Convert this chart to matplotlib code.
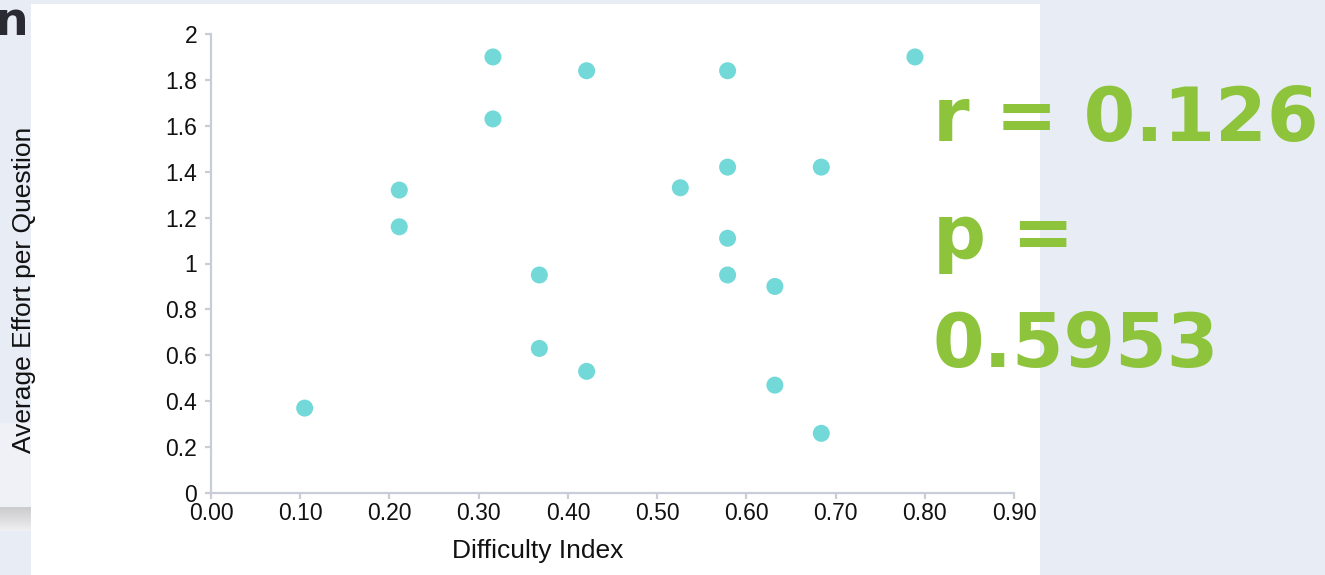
import matplotlib.pyplot as plt
from matplotlib.patches import Rectangle

# difficulty index vs average effort per question
difficulty = [0.105, 0.211, 0.211, 0.316, 0.316, 0.368, 0.368, 0.421, 0.421, 0.526,
              0.579, 0.579, 0.579, 0.579, 0.632, 0.632, 0.684, 0.684, 0.789]
effort = [0.37, 1.32, 1.16, 1.90, 1.63, 0.95, 0.63, 1.84, 0.53, 1.33,
          1.84, 1.42, 1.11, 0.95, 0.90, 0.47, 1.42, 0.26, 1.90]

xticks = [0.0, 0.1, 0.2, 0.3, 0.4, 0.5, 0.6, 0.7, 0.8, 0.9]
xticklabels = ['0.00', '0.10', '0.20', '0.30', '0.40', '0.50', '0.60', '0.70', '0.80', '0.90']
yticks = [0, 0.2, 0.4, 0.6, 0.8, 1, 1.2, 1.4, 1.6, 1.8, 2]
yticklabels = ['0', '0.2', '0.4', '0.6', '0.8', '1', '1.2', '1.4', '1.6', '1.8', '2']

stats_lines = ['r = 0.126', 'p =', '0.5953']

W, H = 1325, 575
fig = plt.figure(figsize=(W / 100, H / 100), dpi=100)
fig.patch.set_facecolor('#e8ecf4')

def px_rect(x0, y0, x1, y1, color):
    # rectangle in pixel coords (top-left origin) on the figure, behind everything
    r = Rectangle((x0 / W, 1 - y1 / H), (x1 - x0) / W, (y1 - y0) / H,
                  transform=fig.transFigure, facecolor=color, edgecolor='none', zorder=-5)
    fig.patches.append(r)

# slide bits behind the chart
px_rect(0, 423, 31, 507, '#eff1f6')
for i in range(12):
    shade = 0.80 + i * 0.012
    px_rect(0, 507 + i * 2, 31, 509 + i * 2, (shade, shade, shade + 0.01))
px_rect(31, 4, 1040, 575, 'white')
fig.text(-0.004, 1.0, 'n', fontsize=34, fontweight='bold', color='#2a2a33',
         family='DejaVu Sans', ha='left', va='top')

ax = fig.add_axes([211 / W, 1 - 493 / H, (1014 - 211) / W, (493 - 34) / H])
ax.set_zorder(2)
ax.set_facecolor('none')
ax.scatter(difficulty, effort, s=150, color='#72d8d8', edgecolors='none', zorder=3, clip_on=False)

ax.set_xlim(0, 0.9)
ax.set_ylim(0, 2)
ax.set_xticks(xticks)
ax.set_xticklabels(xticklabels)
ax.set_yticks(yticks)
ax.set_yticklabels(yticklabels)

for s in ['top', 'right']:
    ax.spines[s].set_visible(False)
for s in ['left', 'bottom']:
    ax.spines[s].set_color('#c9cdd9')
    ax.spines[s].set_linewidth(1.6)

ax.tick_params(axis='both', colors='#c9cdd9', length=4, width=1.6, labelcolor='#111111',
               labelsize=16.5)
ax.tick_params(axis='x', pad=2.5)
ax.tick_params(axis='y', pad=6)
for lab in ax.get_xticklabels() + ax.get_yticklabels():
    lab.set_family('Liberation Sans')

ax.set_xlabel('Difficulty Index', fontsize=19, family='Liberation Sans', color='#111111')
ax.xaxis.set_label_coords((538 - 211) / 803, (493 - 551) / 459)
ax.xaxis.label.set_va('center')
ax.set_ylabel('Average Effort per Question', fontsize=19, family='Liberation Sans', color='#111111')
ax.yaxis.set_label_coords((24 - 211) / 803, (493 - 290) / 459)
ax.yaxis.label.set_va('center')

baselines = [141, 258, 367]
for line, yb in zip(stats_lines, baselines):
    fig.text(933 / W, 1 - yb / H, line, fontsize=53.5, fontweight='bold', color='#8dc43c',
             family='DejaVu Sans', ha='left', va='baseline', zorder=5)

fig.savefig('out.png', dpi=100)
